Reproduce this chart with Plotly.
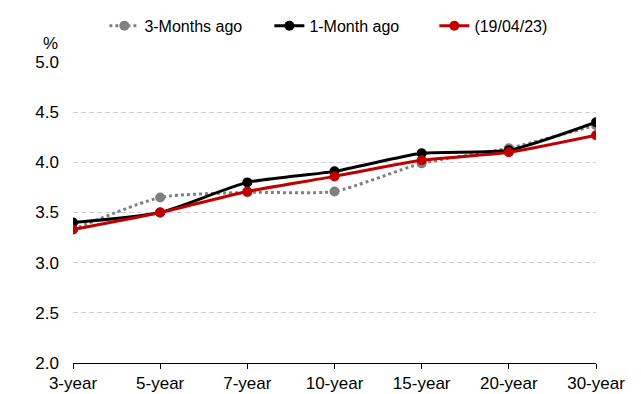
import plotly.graph_objects as go

categories = ["3-year", "5-year", "7-year", "10-year", "15-year", "20-year", "30-year"]
three_months = [3.33, 3.65, 3.70, 3.71, 3.99, 4.14, 4.37]
one_month = [3.40, 3.50, 3.80, 3.91, 4.09, 4.12, 4.40]
current = [3.33, 3.50, 3.71, 3.86, 4.02, 4.10, 4.27]
y_ticks = [2.0, 2.5, 3.0, 3.5, 4.0, 4.5, 5.0]

fig = go.Figure()
fig.add_trace(go.Scatter(x=categories, y=three_months, name="3-Months ago", mode="lines+markers",
                         line=dict(color="#808080", width=3, dash="dot", shape="spline", smoothing=0.6),
                         marker=dict(size=10, color="#808080")))
fig.add_trace(go.Scatter(x=categories, y=one_month, name="1-Month ago", mode="lines+markers",
                         line=dict(color="#000000", width=3, shape="spline", smoothing=0.6),
                         marker=dict(size=10, color="#000000")))
fig.add_trace(go.Scatter(x=categories, y=current, name="(19/04/23)", mode="lines+markers",
                         line=dict(color="#C00000", width=3, shape="spline", smoothing=0.6),
                         marker=dict(size=10, color="#C00000")))

fig.update_layout(
    width=641, height=394,
    margin=dict(l=73, r=45, t=62, b=31, autoexpand=False),
    paper_bgcolor="white", plot_bgcolor="white",
    font=dict(family="Liberation Sans, Arial, sans-serif", size=17, color="#000000"),
    legend=dict(orientation="h", x=0.06, y=1.12, xanchor="left", yanchor="middle",
                font=dict(size=16), itemwidth=30, entrywidth=120, entrywidthmode="pixels",
                bgcolor="rgba(0,0,0,0)"),
    annotations=[dict(text="%", xref="paper", yref="paper", x=-0.025, y=1.06,
                      xanchor="right", yanchor="middle", showarrow=False, font=dict(size=17))],
)
fig.update_xaxes(type="category", range=[0, len(categories) - 1], showline=True, linecolor="#000000",
                 linewidth=1, ticks="outside", ticklen=5, tickcolor="#000000", showgrid=False,
                 tickfont=dict(size=17), automargin=False)
fig.update_yaxes(range=[2.0, 5.0], tickvals=y_ticks, tickformat=".1f", showgrid=True,
                 gridcolor="#D0D0D0", griddash="5px,3px", gridwidth=1, zeroline=False,
                 showline=False, ticks="", tickfont=dict(size=17), automargin=False,
                 ticklabelstandoff=13)

fig.write_html("out.html")
